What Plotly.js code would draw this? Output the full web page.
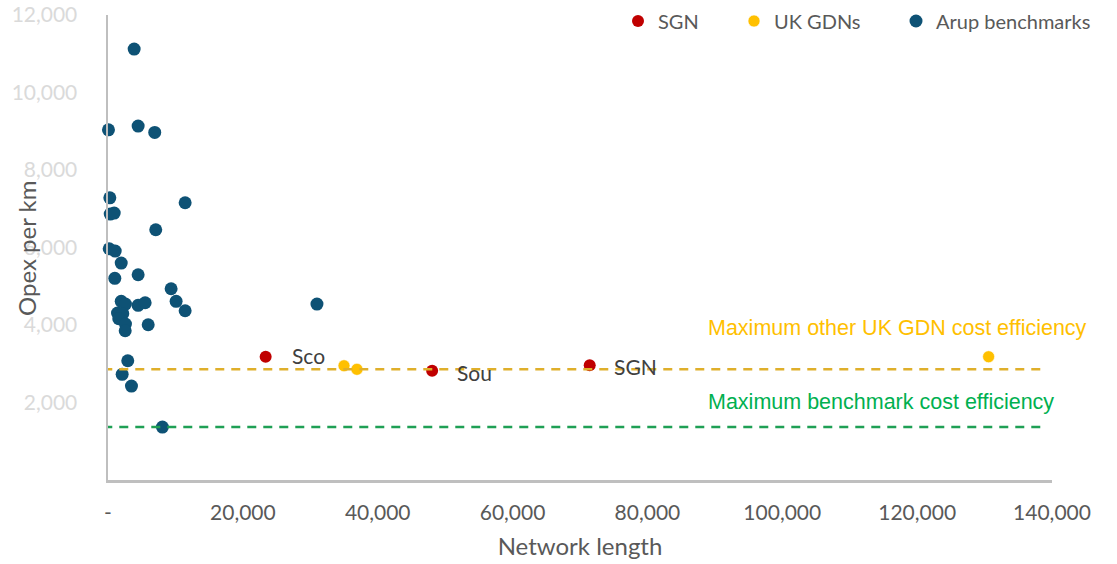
<!DOCTYPE html>
<html>
<head>
<meta charset="utf-8">
<script src="https://cdn.plot.ly/plotly-3.0.1.min.js"></script>
<style>html,body{margin:0;padding:0;background:#fff;}#chart{width:1117px;height:564px;}</style>
</head>
<body>
<div id="chart"></div>
<script>
// SGN networks
const sgnNames = ['Sco', 'Sou', 'SGN'];
const sgnLength = [23380, 48070, 71440];
const sgnOpex = [3181, 2820, 2959];

// Other UK GDNs
const gdnLength = [35000, 36920, 130600];
const gdnOpex = [2949, 2856, 3181];

// Arup benchmarks
const arupLength = [3880, 70, 4470, 6930, 270, 11440, 330, 920, 7080, 180, 1070, 1960, 1010, 4470, 9360, 30990,
  10100, 11440, 1960, 2590, 4470, 5510, 1410, 2190, 1600, 2590, 2550, 5960, 2930, 2100, 3480, 8070];
const arupOpex = [11120, 9038, 9133, 8970, 7283, 7155, 6863, 6889, 6458, 5968, 5908, 5599, 5204, 5297, 4935, 4541,
  4610, 4368, 4610, 4541, 4507, 4574, 4309, 4291, 4162, 4025, 3852, 4007, 3078, 2727, 2425, 1367];

// Reference lines
const maxGdnEfficiency = 2856;
const maxBenchmarkEfficiency = 1367;
const refLineX = [-700, 138800];
const refLabels = ['Maximum other UK GDN cost efficiency', 'Maximum benchmark cost efficiency'];

// Axis ticks
const xTickVals = [0, 20000, 40000, 60000, 80000, 100000, 120000, 140000];
const xTickText = ['-', '20,000', '40,000', '60,000', '80,000', '100,000', '120,000', '140,000'];
const yTickVals = [2000, 4000, 6000, 8000, 10000, 12000];
const yTickText = ['2,000', '4,000', '6,000', '8,000', '10,000', '12,000'];

const FONT = 'Lato, "Open Sans", sans-serif';
const GREY = '#595959';

const traces = [
  {type: 'scatter', mode: 'markers', name: 'SGN', x: sgnLength, y: sgnOpex, legend: 'legend',
   marker: {color: '#C00000', size: 12}, cliponaxis: false},
  {type: 'scatter', mode: 'markers', name: 'UK GDNs', x: gdnLength, y: gdnOpex, legend: 'legend2',
   marker: {color: '#FFC000', size: 12, line: {color: '#ffffff', width: 0.6}}, cliponaxis: false},
  {type: 'scatter', mode: 'markers', name: 'Arup benchmarks', x: arupLength, y: arupOpex, legend: 'legend3',
   marker: {color: '#0E5275', size: 13}, cliponaxis: false},
  {type: 'scatter', mode: 'lines', showlegend: false, hoverinfo: 'skip',
   x: refLineX, y: [maxGdnEfficiency, maxGdnEfficiency],
   line: {color: '#DFAF2B', width: 2.5, dash: '9px,7px'}, cliponaxis: false},
  {type: 'scatter', mode: 'lines', showlegend: false, hoverinfo: 'skip',
   x: refLineX, y: [maxBenchmarkEfficiency, maxBenchmarkEfficiency],
   line: {color: '#1FA055', width: 2.5, dash: '9px,7px'}, cliponaxis: false}
];

const L = 108, R = 65, T = 15, B = 84, W = 1117, H = 564;
const pw = W - L - R, ph = H - T - B;

const pointShifts = [[24, 1], [23, -2], [22, -1]];
const annotations = sgnNames.map((n, i) => ({
  x: sgnLength[i], y: sgnOpex[i], xref: 'x', yref: 'y', text: n, showarrow: false,
  xanchor: 'left', yanchor: 'middle', xshift: pointShifts[i][0], yshift: pointShifts[i][1],
  font: {family: FONT, size: 21, color: '#404040'}
}));
annotations.push({
  x: 88700, y: 3922, xref: 'x', yref: 'y', text: refLabels[0], showarrow: false,
  xanchor: 'left', yanchor: 'middle', font: {family: '"Liberation Sans", Arial, sans-serif', size: 21.5, color: '#FFC000'}
});
annotations.push({
  x: 88700, y: 2012, xref: 'x', yref: 'y', text: refLabels[1], showarrow: false,
  xanchor: 'left', yanchor: 'middle', font: {family: '"Liberation Sans", Arial, sans-serif', size: 21.5, color: '#00B050'}
});
annotations.push({
  x: (27 - L) / pw, y: (H - B - 249) / ph, xref: 'paper', yref: 'paper', text: 'Opex per km', showarrow: false,
  textangle: -90, xanchor: 'center', yanchor: 'middle',
  font: {family: FONT, size: 24, color: GREY}
});

function legendAt(px) {
  return {orientation: 'h', xref: 'container', yref: 'container', x: px / W, xanchor: 'left',
    y: 1 - 21 / H, yanchor: 'middle', font: {family: FONT, size: 20, color: GREY},
    itemclick: false, bgcolor: 'rgba(0,0,0,0)', borderwidth: 0};
}

const layout = {
  width: W, height: H,
  margin: {l: L, r: R, t: T, b: B, pad: 0, autoexpand: false},
  paper_bgcolor: '#ffffff', plot_bgcolor: '#ffffff',
  font: {family: FONT, color: GREY},
  showlegend: true,
  legend: legendAt(618),
  legend2: legendAt(734),
  legend3: legendAt(896),
  xaxis: {
    range: [0, 140000], showgrid: false, zeroline: false,
    showline: true, linecolor: '#BFBFBF', linewidth: 2.5,
    tickmode: 'array', tickvals: xTickVals, ticktext: xTickText, ticks: '',
    ticklabelstandoff: 12,
    tickfont: {family: FONT, size: 21, color: GREY},
    title: {text: 'Network length', font: {family: FONT, size: 24, color: GREY}, standoff: 16}
  },
  yaxis: {
    range: [0, 12000], showgrid: false, zeroline: false,
    showline: true, linecolor: '#BFBFBF', linewidth: 2.5,
    tickmode: 'array', tickvals: yTickVals, ticktext: yTickText, ticks: '',
    ticklabelstandoff: 24,
    tickfont: {family: FONT, size: 21, color: '#DADADA'}
  },
  annotations: annotations
};

Plotly.newPlot('chart', traces, layout, {displayModeBar: false, staticPlot: true});
</script>
</body>
</html>
